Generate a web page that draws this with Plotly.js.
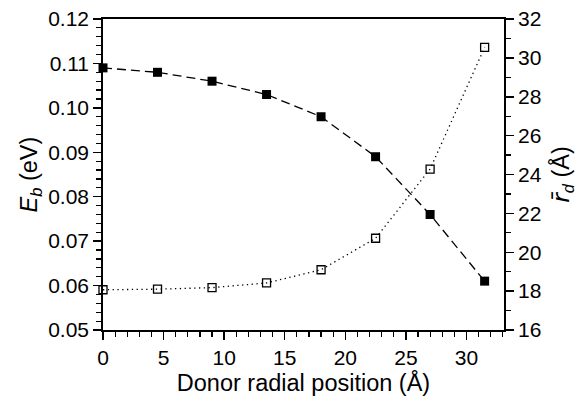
<!DOCTYPE html>
<html>
<head>
<meta charset="utf-8">
<script src="https://cdn.plot.ly/plotly-3.0.1.min.js"></script>
<style>html,body{margin:0;padding:0;background:#fff;}#chart{width:587px;height:399px;}</style>
</head>
<body>
<div id="chart"></div>
<script>
const positions = [0, 4.5, 9, 13.5, 18, 22.5, 27, 31.5];
const bindingEnergy = [0.109, 0.108, 0.106, 0.103, 0.098, 0.089, 0.076, 0.061];
const meanRadius = [18.07, 18.1, 18.18, 18.42, 19.1, 20.72, 24.28, 30.54];

const FONT = 'Liberation Sans, Arial, Helvetica, sans-serif';

const traces = [
  {
    x: positions, y: bindingEnergy, type: 'scatter', mode: 'lines+markers',
    line: {color: '#000', width: 1.3, dash: '9px,5px'},
    marker: {symbol: 'square', size: 9, color: '#000'},
    cliponaxis: false, yaxis: 'y'
  },
  {
    x: positions, y: meanRadius, type: 'scatter', mode: 'lines+markers',
    line: {color: '#000', width: 1.3, dash: '1.3px,3.5px'},
    marker: {symbol: 'square-open', size: 8, color: '#000', line: {width: 1.3, color: '#000'}},
    cliponaxis: false, yaxis: 'y2'
  }
];

const layout = {
  width: 587, height: 399,
  margin: {l: 103, r: 83, t: 19, b: 69},
  paper_bgcolor: '#fff', plot_bgcolor: '#fff',
  showlegend: false,
  font: {family: FONT, color: '#000', size: 21},
  xaxis: {
    range: [0, 33.1], showgrid: false, zeroline: false,
    showline: true, linecolor: '#000', linewidth: 1.8, mirror: true,
    ticks: 'outside', ticklen: 8, tickwidth: 1.5, tickcolor: '#000',
    dtick: 5, tick0: 0,
    minor: {dtick: 1, ticks: 'outside', ticklen: 5, tickwidth: 1.2, tickcolor: '#000', showgrid: false},
    tickfont: {size: 21, family: FONT, color: '#000'},
    title: {text: 'Donor radial position (Å)', font: {size: 23.5, family: FONT, color: '#000'}, standoff: 3}
  },
  yaxis: {
    range: [0.05, 0.12], showgrid: false, zeroline: false,
    showline: true, linecolor: '#000', linewidth: 1.8,
    ticks: 'outside', ticklen: 8, tickwidth: 1.5, tickcolor: '#000',
    dtick: 0.01, tick0: 0, tickformat: '.2f',
    minor: {dtick: 0.002, ticks: 'outside', ticklen: 5, tickwidth: 1.2, tickcolor: '#000', showgrid: false},
    tickfont: {size: 21, family: FONT, color: '#000'},
    title: {text: '<i>E</i><sub><i>b</i></sub> (eV)', font: {size: 23.5, family: FONT, color: '#000'}, standoff: 4}
  },
  yaxis2: {
    overlaying: 'y', side: 'right',
    range: [16, 32], showgrid: false, zeroline: false,
    showline: true, linecolor: '#000', linewidth: 1.8,
    ticks: 'outside', ticklen: 8, tickwidth: 1.5, tickcolor: '#000',
    dtick: 2, tick0: 0,
    minor: {dtick: 1, ticks: 'outside', ticklen: 5, tickwidth: 1.2, tickcolor: '#000', showgrid: false},
    tickfont: {size: 21, family: FONT, color: '#000'},
    title: {text: '<i><span style="font-family:DejaVu Sans">r̄</span></i><sub><i>d</i></sub> (Å)', font: {size: 23.5, family: FONT, color: '#000'}, standoff: 12}
  }
};

Plotly.newPlot('chart', traces, layout, {displayModeBar: false, staticPlot: true});
</script>
</body>
</html>
